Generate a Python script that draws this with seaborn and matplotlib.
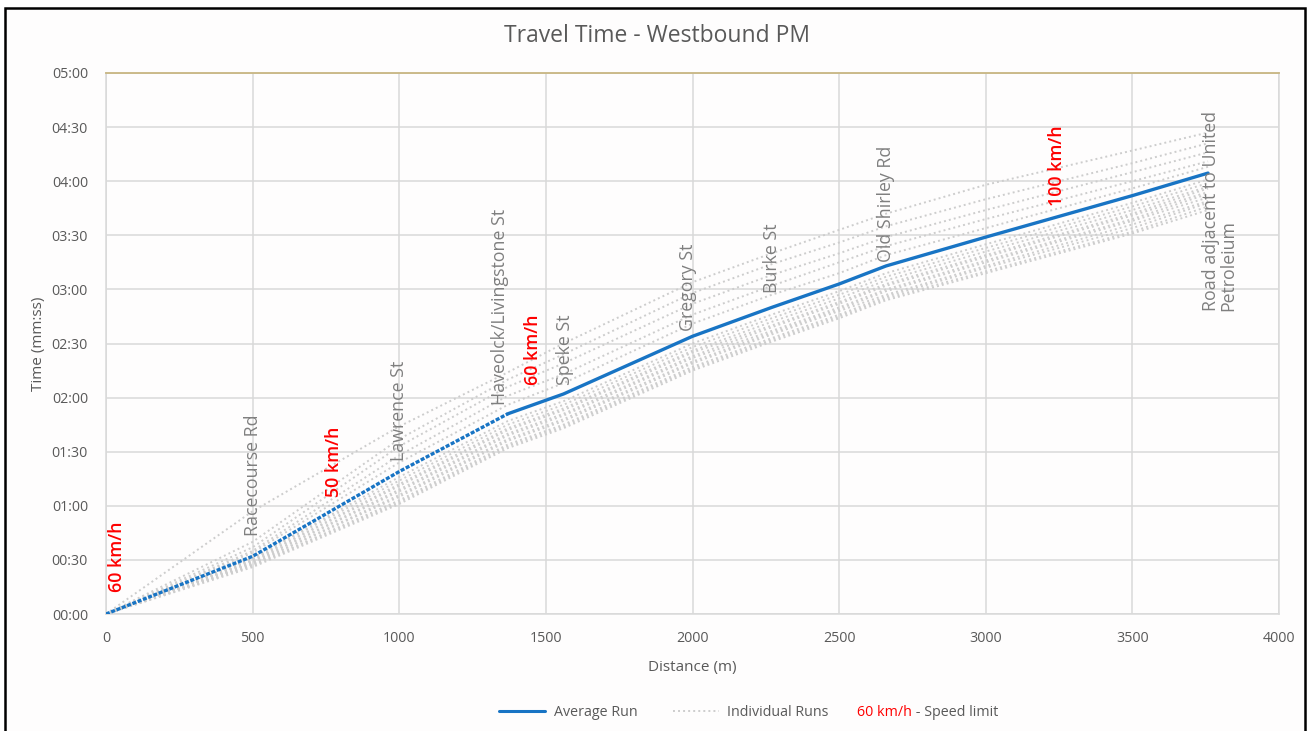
import matplotlib
matplotlib.use("Agg")
import matplotlib.pyplot as plt
from matplotlib.ticker import FuncFormatter, MultipleLocator
from matplotlib.lines import Line2D
from matplotlib.patches import Rectangle
import seaborn as sns
import pandas as pd

# Distance nodes along the route (m)
distance = [0, 500, 1000, 1370, 1560, 2000, 2270, 2500, 2660, 3000, 3500, 3758]

# Average travel time (s) at each node
average_run = [0, 32, 79, 111, 122, 154, 170, 183, 193, 209, 232, 244.5]

# Individual runs (s)
run_01 = [0, 57, 104, 134, 150, 184, 200, 213, 222, 238, 257, 267]
run_02 = [0, 40, 97, 130, 144, 178, 194, 206, 215, 230, 250, 261]
run_03 = [0, 37, 93, 126, 139, 172, 188, 200, 209, 224, 245, 256]
run_04 = [0, 35, 88, 121, 133, 166, 182, 195, 204, 219, 240, 251]
run_05 = [0, 34, 84, 116, 128, 161, 177, 189, 199, 214, 236, 248]
run_06 = [0, 31, 76, 107, 118, 150, 166, 179, 189, 205, 228, 241]
run_07 = [0, 31, 74, 105, 116, 148, 164, 177, 187, 203, 226, 239]
run_08 = [0, 30, 72, 103, 114, 146, 162, 175, 185, 201, 224, 237]
run_09 = [0, 30, 71, 102, 113, 145, 160, 173, 183, 199, 222, 236]
run_10 = [0, 29, 69, 100, 111, 143, 159, 172, 182, 198, 221, 234]
run_11 = [0, 29, 68, 99, 110, 142, 157, 170, 180, 196, 219, 233]
run_12 = [0, 28, 66, 97, 108, 140, 156, 169, 179, 195, 218, 231]
run_13 = [0, 28, 65, 96, 107, 139, 155, 168, 177, 193, 216, 229]
run_14 = [0, 27, 63, 94, 105, 137, 153, 166, 176, 192, 214, 228]
run_15 = [0, 27, 62, 93, 104, 136, 152, 165, 175, 190, 212, 226]
run_16 = [0, 26, 61, 92, 103, 135, 151, 164, 174, 189, 211, 224]

runs = [run_01, run_02, run_03, run_04, run_05, run_06, run_07, run_08,
        run_09, run_10, run_11, run_12, run_13, run_14, run_15, run_16]

# Intersection labels: name, distance (m), base time (s)
streets = ["Racecourse Rd", "Lawrence St", "Haveolck/Livingstone St", "Speke St",
           "Gregory St", "Burke St", "Old Shirley Rd",
           "Road adjacent to United\nPetroleium"]
street_dist = [500, 1000, 1343, 1565, 1985, 2271, 2660, 3797]
street_time = [43, 85, 116, 127, 157, 178, 195, 168]

# Speed limit labels
limits = ["60 km/h", "50 km/h", "60 km/h", "100 km/h"]
limit_dist = [38, 777, 1456, 3243]
limit_time = [12, 65, 127, 226]

x_ticks = list(range(0, 4001, 500))

W, H = 1312, 731
sns.set_theme(style="white")
plt.rcParams["font.family"] = ["Open Sans", "DejaVu Sans"]

fig = plt.figure(figsize=(W / 100, H / 100), dpi=100)
fig.patch.set_facecolor("white")
# outer chart frame
fig.add_artist(Rectangle((5 / W, -0.02), (1305 - 5) / W, 1.02 - 8 / H,
                         transform=fig.transFigure, facecolor="#fefdfd",
                         edgecolor="black", lw=1.8, zorder=0))

ax = fig.add_axes([106 / W, 1 - 614 / H, (1279 - 106) / W, (614 - 73) / H])
ax.set_facecolor("#fefdfd")

grid_c = "#d9d9d9"
text_c = "#595959"
blue = "#1874c4"
gray_run = "#cdcdcd"

# individual runs
long = pd.DataFrame({
    "distance": [d for r in runs for d in distance],
    "time": [t for r in runs for t in r],
    "run": [i for i, r in enumerate(runs) for _ in distance],
})
sns.lineplot(data=long, x="distance", y="time", units="run", estimator=None,
             color=gray_run, lw=1.4, linestyle=(0, (1, 1.6)), ax=ax, zorder=2,
             legend=False)

# average run
k = 4
sns.lineplot(x=distance[:k], y=average_run[:k], color=blue, lw=2.4,
             linestyle=(0, (1.2, 0.5)), ax=ax, zorder=3, legend=False)
sns.lineplot(x=distance[k - 1:], y=average_run[k - 1:], color=blue, lw=2.4,
             ax=ax, zorder=3, legend=False)

ax.set_xlim(0, 4000)
ax.set_ylim(0, 300)
ax.set_xticks(x_ticks)
ax.yaxis.set_major_locator(MultipleLocator(30))
ax.yaxis.set_major_formatter(FuncFormatter(lambda v, p: f"{int(v // 60):02d}:{int(v % 60):02d}"))
ax.grid(True, color=grid_c, lw=1.1)
ax.set_axisbelow(True)
ax.tick_params(axis="both", length=0, labelsize=10.3, colors=text_c)
ax.tick_params(axis="x", pad=12)
ax.tick_params(axis="y", pad=13)
for s in ["left", "bottom", "right"]:
    ax.spines[s].set_color(grid_c)
    ax.spines[s].set_linewidth(1.1)
ax.spines["top"].set_color("#c8b682")
ax.spines["top"].set_linewidth(1.3)

ax.set_xlabel("Distance (m)", fontsize=11, color=text_c, labelpad=10)
ax.set_ylabel("Time (mm:ss)", fontsize=11, color=text_c, labelpad=4)
fig.text(657 / W, 1 - 36 / H, "Travel Time - Westbound PM", fontsize=16.5,
         color=text_c, ha="center", va="center")

for name, d, t in zip(streets, street_dist, street_time):
    ax.text(d, t, name, rotation=90, ha="center", va="bottom", fontsize=12.8,
            color="#7f7f7f", multialignment="left", linespacing=0.95, zorder=4)
for name, d, t in zip(limits, limit_dist, limit_time):
    ax.text(d, t, name, rotation=90, ha="center", va="bottom", fontsize=12.8,
            color="#ff0000", fontweight="semibold", zorder=4)

handles = [Line2D([], [], color=blue, lw=2.2),
           Line2D([], [], color=gray_run, lw=1.4, linestyle=(0, (1, 1.6)))]
fig.legend(handles, ["Average Run", "Individual Runs"], loc="center",
           bbox_to_anchor=(664 / W, 1 - 713 / H), ncol=2, frameon=False,
           fontsize=10.3, labelcolor=text_c, handlelength=3.2, columnspacing=2.5,
           handletextpad=0.6)
t1 = fig.text(857 / W, 1 - 712 / H, "60 km/h", color="#ff0000", fontsize=10.3,
              va="center", ha="left")
fig.canvas.draw()
bb = t1.get_window_extent()
fig.text(bb.x1 / W, 1 - 712 / H, " - Speed limit", color=text_c, fontsize=10.3,
         va="center", ha="left")

fig.savefig("out.png", dpi=100, facecolor="white")
